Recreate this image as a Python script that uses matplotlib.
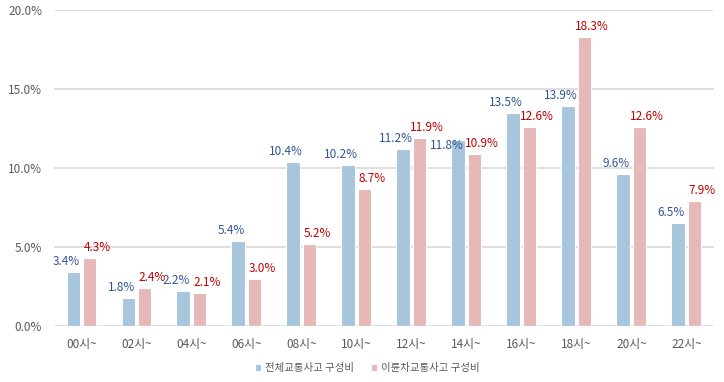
import matplotlib
matplotlib.use("Agg")
import matplotlib.pyplot as plt
import numpy as np
from matplotlib.ticker import FuncFormatter

plt.rcParams['font.family'] = ['Noto Sans CJK KR', 'DejaVu Sans']

categories = ["00시~", "02시~", "04시~", "06시~", "08시~", "10시~", "12시~", "14시~", "16시~", "18시~", "20시~", "22시~"]
total = [3.4, 1.8, 2.2, 5.4, 10.4, 10.2, 11.2, 11.8, 13.5, 13.9, 9.6, 6.5]
twowheel = [4.3, 2.4, 2.1, 3.0, 5.2, 8.7, 11.9, 10.9, 12.6, 18.3, 12.6, 7.9]
series_names = ["전체교통사고 구성비", "이륜차교통사고 구성비"]

# label nudges (category index -> (dx, dy)) for the first series, to avoid overlaps
blue_nudge = {7: (-0.08, -1.05)}

fig = plt.figure(figsize=(7.24, 3.82), dpi=100)
ax = fig.add_axes([0.0746, 0.1466, 0.9114, 0.8274])

x = np.arange(len(categories))
w = 0.245
off = 0.15
c_blue = "#A7C5DD"
c_red = "#E6B8B8"
b1 = ax.bar(x - off, total, w, color=c_blue, edgecolor="white", linewidth=0.8, label=series_names[0], zorder=3)
b2 = ax.bar(x + off, twowheel, w, color=c_red, edgecolor="white", linewidth=0.8, label=series_names[1], zorder=3)

for i, (xi, v) in enumerate(zip(x, total)):
    dx, dy = blue_nudge.get(i, (0, 0))
    ax.text(xi - off - 0.13 + dx, v + 0.25 + dy, f"{v:.1f}%", ha="center", va="bottom", color="#2F5597", fontsize=8.5, zorder=4)
for xi, v in zip(x, twowheel):
    ax.text(xi + off + 0.13, v + 0.25, f"{v:.1f}%", ha="center", va="bottom", color="#C00000", fontsize=8.5, zorder=4)

ax.set_xlim(-0.5, len(categories) - 0.5)
ax.set_ylim(0, 20)
ax.set_yticks([0, 5, 10, 15, 20])
ax.yaxis.set_major_formatter(FuncFormatter(lambda v, p: f"{v:.1f}%"))
ax.set_xticks(x)
ax.set_xticklabels(categories)
ax.tick_params(axis="both", length=0, labelsize=8.5, colors="#595959")
ax.tick_params(axis="x", pad=9)
ax.tick_params(axis="y", pad=8.5)
ax.grid(axis="y", color="#D9D9D9", linewidth=1.2, zorder=0)
for s in ax.spines.values():
    s.set_visible(False)

leg = fig.legend(handles=[b1, b2], labels=series_names, loc="center", bbox_to_anchor=(0.507, 0.036),
                 ncol=2, frameon=False, fontsize=7.5, handlelength=0.6, handleheight=0.6,
                 handletextpad=0.4, columnspacing=1.6)
for t in leg.get_texts():
    t.set_color("#595959")

fig.savefig("out.png", dpi=100)
